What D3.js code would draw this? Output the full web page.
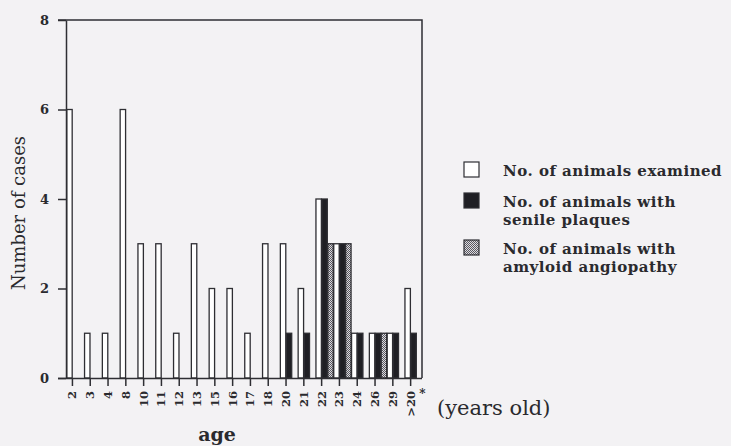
<!DOCTYPE html>
<html>
<head>
<meta charset="utf-8">
<script src="https://cdn.jsdelivr.net/npm/d3@7/dist/d3.min.js"></script>
<style>
  html, body { margin: 0; padding: 0; background: #f3f2f4; }
  svg { display: block; }
  text { font-family: "DejaVu Serif", "Liberation Serif", serif; fill: #2a2a2e; }
</style>
</head>
<body>
<svg id="chart" width="731" height="446"></svg>
<script>
// Age groups (years) and counts per group
const ages = ["2", "3", "4", "8", "10", "11", "12", "13", "15", "16", "17", "18",
              "20", "21", "22", "23", "24", "26", "29", ">20"];
const examined = [6, 1, 1, 6, 3, 3, 1, 3, 2, 2, 1, 3, 3, 2, 4, 3, 1, 1, 1, 2];
const plaques  = [0, 0, 0, 0, 0, 0, 0, 0, 0, 0, 0, 0, 1, 1, 4, 3, 1, 1, 1, 1];
const angiopathy = [0, 0, 0, 0, 0, 0, 0, 0, 0, 0, 0, 0, 0, 0, 3, 3, 0, 1, 0, 0];
const yTicks = [0, 2, 4, 6, 8];
const seriesNames = [["No. of animals examined"],
                     ["No. of animals with", "senile plaques"],
                     ["No. of animals with", "amyloid angiopathy"]];

const svg = d3.select("#chart");
const ink = "#2e2e33";
const serif = "'DejaVu Serif', 'Liberation Serif', serif";

const plot = { left: 66, right: 422, top: 20, bottom: 378 };

// stippled fill for the angiopathy series
const defs = svg.append("defs");
const pat = defs.append("pattern")
  .attr("id", "stipple").attr("patternUnits", "userSpaceOnUse")
  .attr("width", 2).attr("height", 2);
pat.append("rect").attr("width", 2).attr("height", 2).attr("fill", "#dcdbe0");
pat.append("rect").attr("width", 1).attr("height", 1).attr("fill", "#5a5960");
pat.append("rect").attr("x", 1).attr("y", 1).attr("width", 1).attr("height", 1).attr("fill", "#5a5960");

const x = d3.scaleBand().domain(ages).range([plot.left, plot.right]).padding(0);
const sub = d3.scaleBand().domain([0, 1, 2]).range([0, x.bandwidth()]).padding(0);
const y = d3.scaleLinear().domain([0, 8]).range([plot.bottom, plot.top]);

// tick positions sit on the boundary between the first and second bar of each group
const xTick = d3.scalePoint().domain(ages)
  .range([x(ages[0]) + sub.bandwidth(), x(ages[ages.length - 1]) + sub.bandwidth()]);

const series = [
  { values: examined, fill: "#ffffff" },
  { values: plaques, fill: "#1f1f24" },
  { values: angiopathy, fill: "url(#stipple)" }
];

// bars
series.forEach((s, si) => {
  svg.append("g").selectAll("rect")
    .data(ages.map((a, i) => ({ age: a, v: s.values[i] })).filter(d => d.v > 0))
    .join("rect")
    .attr("x", d => x(d.age) + sub(si) + 0.75)
    .attr("y", d => y(d.v))
    .attr("width", sub.bandwidth() - 0.5)
    .attr("height", d => y(0) - y(d.v))
    .attr("fill", s.fill)
    .attr("stroke", ink)
    .attr("stroke-width", 1.3);
});

// frame: top and right edges
svg.append("path")
  .attr("d", `M${plot.left - 8},${plot.top}H${plot.right}V${plot.bottom}`)
  .attr("fill", "none").attr("stroke", ink).attr("stroke-width", 1.5);

// y axis
const yAxis = svg.append("g")
  .attr("transform", `translate(${plot.left},0)`)
  .call(d3.axisLeft(y).tickValues(yTicks).tickSize(8).tickPadding(9).tickSizeOuter(0));
yAxis.select(".domain").attr("stroke", ink).attr("stroke-width", 1.5);
yAxis.selectAll(".tick line").attr("stroke", ink).attr("stroke-width", 1.5);
yAxis.selectAll(".tick text")
  .style("font-family", serif)
  .style("font-weight", "bold").style("font-size", "13px").attr("fill", "#2a2a2e");

// x axis
const xAxis = svg.append("g")
  .attr("transform", `translate(0,${plot.bottom})`)
  .call(d3.axisBottom(xTick).tickSize(8).tickPadding(4).tickSizeOuter(0));
xAxis.select(".domain")
  .attr("d", `M${plot.left - 8},0.5H${plot.right}`)
  .attr("stroke", ink).attr("stroke-width", 1.5);
xAxis.selectAll(".tick line").attr("stroke", ink).attr("stroke-width", 1.5);
xAxis.selectAll(".tick text")
  .style("font-family", serif)
  .style("font-weight", "bold").style("font-size", "11.5px").attr("fill", "#2a2a2e")
  .attr("text-anchor", "end")
  .attr("dy", "0.35em")
  .attr("transform", "translate(0,13) rotate(-90)")
  .attr("x", 0).attr("y", 0);

// footnote marker on the last group
svg.append("text")
  .attr("x", xTick(">20") + 9).attr("y", 398)
  .style("font-size", "12px").style("font-weight", "bold").text("*");

svg.append("text")
  .attr("x", 437).attr("y", 415)
  .style("font-size", "21px").text("(years old)");

svg.append("text")
  .attr("x", 217).attr("y", 441).attr("text-anchor", "middle")
  .style("font-size", "19px").style("font-weight", "bold").text("age");

svg.append("text")
  .attr("transform", "translate(25,213) rotate(-90)")
  .attr("text-anchor", "middle")
  .style("font-size", "18px").text("Number of cases");

// legend
const legendRows = [
  { y: 162, fill: "#ffffff" },
  { y: 193, fill: "#1f1f24" },
  { y: 240, fill: "url(#stipple)" }
];
const legend = svg.append("g");
legendRows.forEach((r, i) => {
  legend.append("rect")
    .attr("x", 464).attr("y", r.y).attr("width", 15).attr("height", 15)
    .attr("fill", r.fill).attr("stroke", ink).attr("stroke-width", 1.2);
  seriesNames[i].forEach((line, li) => {
    legend.append("text")
      .attr("x", 503).attr("y", r.y + 14 + li * 17.5)
      .style("font-size", "15px").style("font-weight", "bold")
      .style("letter-spacing", "0.5px")
      .text(line);
  });
});
</script>
</body>
</html>
